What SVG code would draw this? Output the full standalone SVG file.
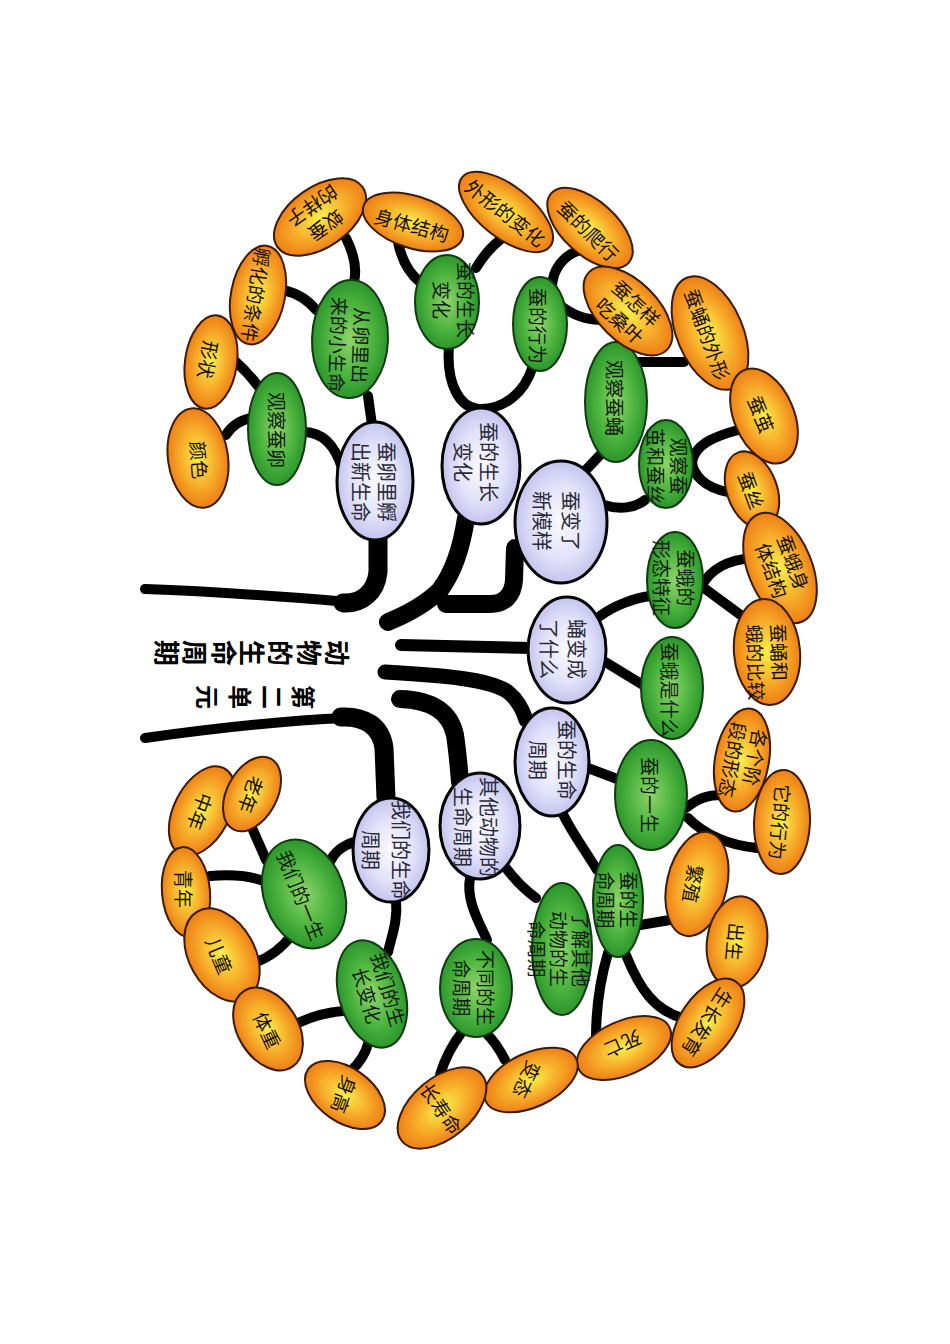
<svg xmlns="http://www.w3.org/2000/svg" width="950" height="1344" viewBox="0 0 950 1344">
<defs>
<radialGradient id="gOr" cx="50%" cy="50%" r="50%"><stop offset="0" stop-color="#fbf04a"/><stop offset="0.55" stop-color="#f7b02c"/><stop offset="1" stop-color="#ee7f16"/></radialGradient>
<radialGradient id="gGr" cx="50%" cy="50%" r="50%"><stop offset="0" stop-color="#8fd46a"/><stop offset="0.6" stop-color="#4cb43e"/><stop offset="1" stop-color="#2c962c"/></radialGradient>
<radialGradient id="gLa" cx="50%" cy="50%" r="50%"><stop offset="0" stop-color="#fafaff"/><stop offset="0.6" stop-color="#e2e2fa"/><stop offset="1" stop-color="#c4c4ee"/></radialGradient>
</defs>
<style>
.or ellipse{fill:url(#gOr);stroke:#3a1c00;stroke-width:2}
.gr ellipse{fill:url(#gGr);stroke:#123a10;stroke-width:2}
.la ellipse{fill:url(#gLa);stroke:#000;stroke-width:3}
text{font-family:"Noto Sans CJK SC","Noto Sans",sans-serif;text-anchor:middle;dominant-baseline:central}
.or text{font-size:19px;fill:#1a1000}
.gr text{font-size:19px;fill:#102010}
.la text{font-size:20px;fill:#2a2a3a}
text.title{text-anchor:start;dominant-baseline:auto;fill:#000;font-weight:600}
#links path{fill:none;stroke:#000;stroke-linecap:round;stroke-linejoin:round}
#links .c{stroke-width:10}
</style>
<rect width="950" height="1344" fill="#fff"/>

<g id="links">
<path d="M145,589 C230,592 300,598 348,602" stroke-width="10"/>
<path d="M343,603 C362,604 376,592 378,572 L378,538" stroke-width="19"/>
<path d="M466,518 C462,545 455,570 440,590 C425,605 405,615 388,622" stroke-width="18"/>
<path d="M446,604 L490,604 C505,604 513,595 514,580 L515,548" stroke-width="18"/>
<path d="M401,645 L531,648" stroke-width="12"/>
<path d="M385,672 C440,675 490,679 508,692 C518,700 523,710 526,720" stroke-width="15"/>
<path d="M400,699 C432,700 450,712 455,735 C458,755 459,770 460,782" stroke-width="18"/>
<path d="M145,738 C230,726 300,720 346,718" stroke-width="10"/>
<path d="M341,717 C365,716 381,726 384,748 L386,798" stroke-width="19"/>

<path class="c" d="M368,396 L372,425"/>
<path class="c" d="M303,432 C322,432 335,445 342,468"/>
<path class="c" d="M354,282 C358,265 352,250 346,238"/>
<path class="c" d="M283,290 C297,293 308,300 316,310"/>
<path class="c" d="M236,362 C245,370 252,378 258,386"/>
<path class="c" d="M226,435 C232,425 240,420 252,418"/>
<path class="c" d="M449,346 C446,385 460,407 478,409 C502,410 524,395 533,366"/>
<path class="c" d="M398,242 C402,262 410,274 420,282"/>
<path class="c" d="M476,268 C484,255 492,246 500,240"/>
<path class="c" d="M552,286 C553,270 562,256 580,250"/>
<path class="c" d="M560,305 C572,315 588,320 603,320"/>
<path class="c" d="M584,472 L601,454"/>
<path class="c" d="M604,505 C620,510 635,508 645,500"/>
<path class="c" d="M636,362 L684,362"/>
<path class="c" d="M738,430 C712,437 695,445 692,462 C693,475 705,488 728,492"/>
<path class="c" d="M600,616 C615,605 635,598 650,596"/>
<path class="c" d="M602,660 L643,685"/>
<path class="c" d="M702,585 C712,568 728,560 752,558"/>
<path class="c" d="M704,588 L742,616"/>
<path class="c" d="M588,768 L625,782"/>
<path class="c" d="M562,812 C570,830 585,850 597,870"/>
<path class="c" d="M686,808 C698,798 708,795 722,795"/>
<path class="c" d="M688,818 C705,835 728,845 757,848"/>
<path class="c" d="M640,925 L670,920"/>
<path class="c" d="M608,953 C600,980 596,1005 596,1038"/>
<path class="c" d="M626,955 C640,990 655,1010 682,1018"/>
<path class="c" d="M470,878 C466,900 478,920 487,940"/>
<path class="c" d="M506,868 C515,880 525,890 536,898"/>
<path class="c" d="M462,1032 C452,1045 445,1058 440,1075"/>
<path class="c" d="M486,1033 C495,1042 500,1050 505,1060"/>
<path class="c" d="M354,842 C342,846 334,852 330,862"/>
<path class="c" d="M396,900 C398,920 392,935 388,952"/>
<path class="c" d="M253,830 C258,842 262,850 266,860"/>
<path class="c" d="M210,876 C235,874 252,876 266,882"/>
<path class="c" d="M292,935 C280,950 268,958 256,962"/>
<path class="c" d="M298,1023 C315,1015 330,1012 343,1011"/>
<path class="c" d="M368,1044 C365,1055 360,1062 352,1070"/>
</g>

<g id="title">
<text class="title" font-size="26" x="327 299 270 242 214 185 157" y="640" rotate="90">动物的生命周期</text>
<text class="title" font-size="24" x="294 263 231 198" y="685" rotate="90">第二单元</text>
</g>

<g id="la1" class="la"><ellipse cx="375" cy="481" rx="59" ry="38" transform="rotate(90 375 481)"/><text transform="translate(375 482) rotate(90)"><tspan x="0" y="-13">蚕卵里孵</tspan><tspan x="0" y="13">出新生命</tspan></text></g>
<g id="la2" class="la"><ellipse cx="481" cy="466" rx="58" ry="39" transform="rotate(90 481 466)"/><text transform="translate(477 462) rotate(90)"><tspan x="0" y="-13">蚕的生长</tspan><tspan x="0" y="13">变化</tspan></text></g>
<g id="la3" class="la"><ellipse cx="561" cy="522" rx="61" ry="46" transform="rotate(90 561 522)"/><text transform="translate(557 521) rotate(90)"><tspan x="0" y="-14.5">蚕变了</tspan><tspan x="0" y="14.5">新模样</tspan></text></g>
<g id="la4" class="la"><ellipse cx="567" cy="650" rx="53" ry="39" transform="rotate(90 567 650)"/><text transform="translate(564 649) rotate(90)"><tspan x="0" y="-14">蛹变成</tspan><tspan x="0" y="14">了什么</tspan></text></g>
<g id="la5" class="la"><ellipse cx="552" cy="762" rx="54" ry="37" transform="rotate(90 552 762)"/><text transform="translate(553 760) rotate(90)"><tspan x="0" y="-14.5">蚕的生命</tspan><tspan x="0" y="14.5">周期</tspan></text></g>
<g id="la6" class="la"><ellipse cx="480" cy="826" rx="53" ry="40" transform="rotate(90 480 826)"/><text transform="translate(477 827) rotate(90)"><tspan x="0" y="-13">其他动物的</tspan><tspan x="0" y="13">生命周期</tspan></text></g>
<g id="la7" class="la"><ellipse cx="391" cy="850" rx="52" ry="38" transform="rotate(90 391 850)"/><text transform="translate(387 850) rotate(90)"><tspan x="0" y="-15">我们的生命</tspan><tspan x="0" y="15">周期</tspan></text></g>

<g id="g1" class="gr"><ellipse cx="350" cy="339" rx="59" ry="38" transform="rotate(92 350 339)"/><text transform="translate(351 345) rotate(92)"><tspan x="0" y="-11.5">从卵里出</tspan><tspan x="0" y="11.5">来的小生命</tspan></text></g>
<g id="g2" class="gr"><ellipse cx="277" cy="429" rx="56" ry="29" transform="rotate(90 277 429)"/><text transform="translate(277 430) rotate(90)">观察蚕卵</text></g>
<g id="g3" class="gr"><ellipse cx="447" cy="302" rx="47" ry="32" transform="rotate(90 447 302)"/><text transform="translate(455 300) rotate(90)"><tspan x="0" y="-12">蚕的生长</tspan><tspan x="0" y="12">变化</tspan></text></g>
<g id="g4" class="gr"><ellipse cx="540" cy="324" rx="47" ry="27" transform="rotate(90 540 324)"/><text transform="translate(538 326) rotate(90)">蚕的行为</text></g>
<g id="g5" class="gr"><ellipse cx="616" cy="402" rx="60" ry="31" transform="rotate(90 616 402)"/><text transform="translate(615 398) rotate(90)">观察蚕蛹</text></g>
<g id="g6" class="gr"><ellipse cx="666" cy="464" rx="44" ry="27" transform="rotate(90 666 464)"/><text transform="translate(668 466) rotate(90)" font-size="18"><tspan x="0" y="-11.5">观察蚕</tspan><tspan x="0" y="11.5">茧和蚕丝</tspan></text></g>
<g id="g7" class="gr"><ellipse cx="675" cy="580" rx="48" ry="28" transform="rotate(90 675 580)"/><text transform="translate(675 578) rotate(90)" font-size="18"><tspan x="0" y="-12">蚕蛾的</tspan><tspan x="0" y="12">形态特征</tspan></text></g>
<g id="g8" class="gr"><ellipse cx="672" cy="688" rx="51" ry="31" transform="rotate(90 672 688)"/><text transform="translate(670 690) rotate(90)">蚕蛾是什么</text></g>
<g id="g9" class="gr"><ellipse cx="651" cy="795" rx="55" ry="36" transform="rotate(90 651 795)"/><text transform="translate(650 795) rotate(90)">蚕的一生</text></g>
<g id="g10" class="gr"><ellipse cx="618" cy="901" rx="56" ry="25" transform="rotate(90 618 901)"/><text transform="translate(618 900) rotate(90)"><tspan x="0" y="-11.5">蚕的生</tspan><tspan x="0" y="11.5">命周期</tspan></text></g>
<g id="g11" class="gr"><ellipse cx="562" cy="949" rx="66" ry="30" transform="rotate(90 562 949)"/><text transform="translate(560 949) rotate(90)" font-size="18"><tspan x="0" y="-22">了解其他</tspan><tspan x="0" y="0">动物的生</tspan><tspan x="0" y="22">命周期</tspan></text></g>
<g id="g12" class="gr"><ellipse cx="476" cy="988" rx="49" ry="36" transform="rotate(90 476 988)"/><text transform="translate(475 988) rotate(90)"><tspan x="0" y="-12">不同的生</tspan><tspan x="0" y="12">命周期</tspan></text></g>
<g id="g13" class="gr"><ellipse cx="304" cy="894" rx="56" ry="40" transform="rotate(70 304 894)"/><text transform="translate(302 895) rotate(68)">我们的一生</text></g>
<g id="g14" class="gr"><ellipse cx="372" cy="994" rx="55" ry="33" transform="rotate(74 372 994)"/><text transform="translate(379 992) rotate(74)"><tspan x="0" y="-11">我们的生</tspan><tspan x="0" y="11">长变化</tspan></text></g>

<g id="o1" class="or"><ellipse cx="198" cy="458" rx="50" ry="30" transform="rotate(82 198 458)"/><text transform="translate(200 460) rotate(85)">颜色</text></g>
<g id="o2" class="or"><ellipse cx="211" cy="362" rx="47" ry="26" transform="rotate(98 211 362)"/><text transform="translate(209 360) rotate(100)">形状</text></g>
<g id="o3" class="or"><ellipse cx="258" cy="295" rx="50" ry="27" transform="rotate(101 258 295)"/><text transform="translate(257 295) rotate(99)">孵化的条件</text></g>
<g id="o4" class="or"><ellipse cx="320" cy="217" rx="52" ry="30" transform="rotate(145 320 217)"/><text transform="translate(320 217) rotate(145)"><tspan x="0" y="-12">蚁蚕</tspan><tspan x="0" y="12">的样子</tspan></text></g>
<g id="o5" class="or"><ellipse cx="413" cy="222" rx="52" ry="26" transform="rotate(18 413 222)"/><text transform="translate(412 224) rotate(15)">身体结构</text></g>
<g id="o6" class="or"><ellipse cx="506" cy="212" rx="56" ry="26" transform="rotate(38 506 212)"/><text transform="translate(506 212) rotate(38)">外形的变化</text></g>
<g id="o7" class="or"><ellipse cx="590" cy="228" rx="52" ry="27" transform="rotate(42 590 228)"/><text transform="translate(589 230) rotate(45)">蚕的爬行</text></g>
<g id="o8" class="or"><ellipse cx="628" cy="311" rx="55" ry="30" transform="rotate(45 628 311)"/><text transform="translate(629 311) rotate(43)"><tspan x="0" y="-12">蚕怎样</tspan><tspan x="0" y="12">吃桑叶</tspan></text></g>
<g id="o9" class="or"><ellipse cx="710" cy="333" rx="60" ry="33" transform="rotate(67 710 333)"/><text transform="translate(708 334) rotate(70)">蚕蛹的外形</text></g>
<g id="o10" class="or"><ellipse cx="764" cy="416" rx="50" ry="30" transform="rotate(67 764 416)"/><text transform="translate(762 414) rotate(68)">蚕茧</text></g>
<g id="o11" class="or"><ellipse cx="752" cy="490" rx="40" ry="25" transform="rotate(70 752 490)"/><text transform="translate(752 490) rotate(70)">蚕丝</text></g>
<g id="o12" class="or"><ellipse cx="780" cy="568" rx="58" ry="32" transform="rotate(68 780 568)"/><text transform="translate(784 566) rotate(70)"><tspan x="0" y="-11.5">蚕蛾身</tspan><tspan x="0" y="11.5">体结构</tspan></text></g>
<g id="o13" class="or"><ellipse cx="767" cy="652" rx="53" ry="33" transform="rotate(85 767 652)"/><text transform="translate(769 662) rotate(88)"><tspan x="-9.5" y="-12">蚕蛹和</tspan><tspan x="0" y="12">蛾的比较</tspan></text></g>
<g id="o14" class="or"><ellipse cx="742" cy="760" rx="52" ry="27" transform="rotate(100 742 760)"/><text transform="translate(745 762) rotate(100)" font-size="18"><tspan x="-6" y="-11">各个阶</tspan><tspan x="0" y="11">段的形态</tspan></text></g>
<g id="o15" class="or"><ellipse cx="782" cy="822" rx="52" ry="28" transform="rotate(92 782 822)"/><text transform="translate(781 822) rotate(95)">它的行为</text></g>
<g id="o16" class="or"><ellipse cx="697" cy="884" rx="53" ry="30" transform="rotate(103 697 884)"/><text transform="translate(694 884) rotate(100)">繁殖</text></g>
<g id="o17" class="or"><ellipse cx="737" cy="942" rx="46" ry="30" transform="rotate(98 737 942)"/><text transform="translate(736 942) rotate(95)">出生</text></g>
<g id="o19" class="or"><ellipse cx="624" cy="1048" rx="50" ry="27" transform="rotate(-24 624 1048)"/><text transform="translate(623 1045) rotate(156)">死亡</text></g>
<g id="o18" class="or"><ellipse cx="708" cy="1023" rx="50" ry="28" transform="rotate(124 708 1023)"/><text transform="translate(708 1023) rotate(122)">生长发育</text></g>
<g id="o20" class="or"><ellipse cx="531" cy="1080" rx="50" ry="27" transform="rotate(-25 531 1080)"/><text transform="translate(528 1080) rotate(115)">变态</text></g>
<g id="o21" class="or"><ellipse cx="442" cy="1108" rx="52" ry="30" transform="rotate(-40 442 1108)"/><text transform="translate(442 1108) rotate(55)" font-size="18" fill="#5d6b3a">长寿命</text></g>
<g id="o26" class="or"><ellipse cx="202" cy="811" rx="48" ry="28" transform="rotate(117 202 811)"/><text transform="translate(201 812) rotate(110)">中年</text></g>
<g id="o27" class="or"><ellipse cx="252" cy="794" rx="40" ry="25" transform="rotate(118 252 794)"/><text transform="translate(252 795) rotate(110)">老年</text></g>
<g id="o25" class="or"><ellipse cx="186" cy="892" rx="45" ry="24" transform="rotate(85 186 892)"/><text transform="translate(184 889) rotate(90)">青年</text></g>
<g id="o24" class="or"><ellipse cx="222" cy="955" rx="50" ry="33" transform="rotate(61 222 955)"/><text transform="translate(220 955) rotate(67)">儿童</text></g>
<g id="o23" class="or"><ellipse cx="268" cy="1029" rx="45" ry="30" transform="rotate(58 268 1029)"/><text transform="translate(268 1030) rotate(65)">体重</text></g>
<g id="o22" class="or"><ellipse cx="345" cy="1095" rx="45" ry="27" transform="rotate(35 345 1095)"/><text transform="translate(345 1095) rotate(110)">身高</text></g>
</svg>
